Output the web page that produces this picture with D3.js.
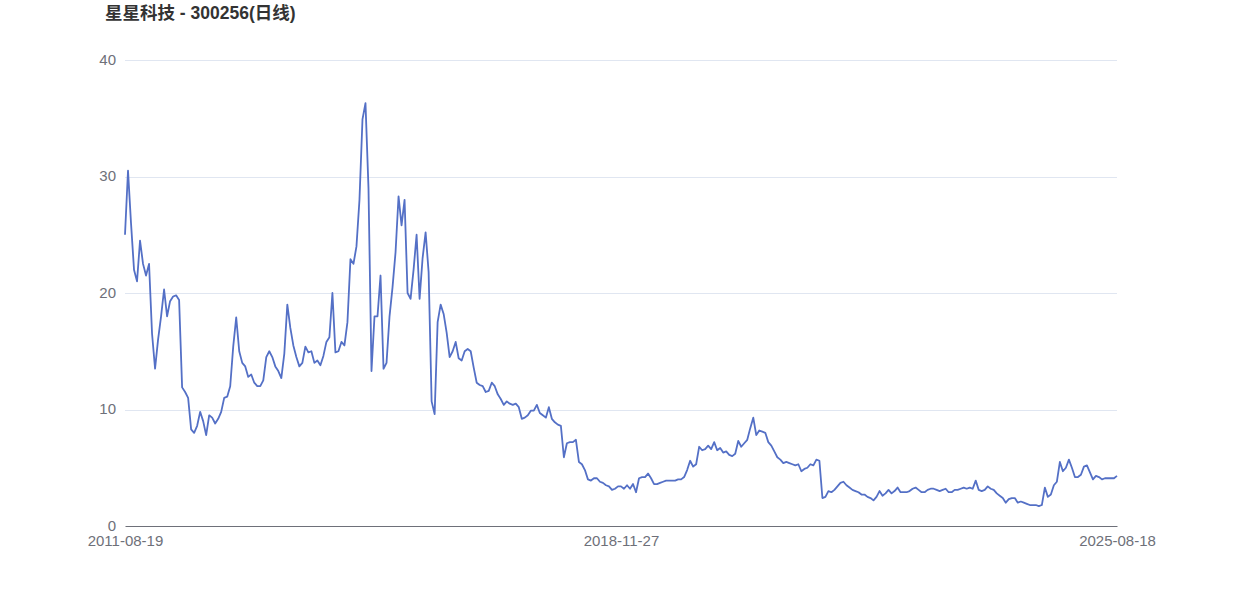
<!DOCTYPE html>
<html>
<head>
<meta charset="utf-8">
<script src="https://d3js.org/d3.v7.min.js"></script>
<style>
  body { margin: 0; background: #fff; }
  text { font-family: "Liberation Sans", Arial, "Noto Sans CJK SC", sans-serif; }
</style>
</head>
<body>
<div id="my_dataviz"></div>
<script>
// chart data (one value every ~3px)
var chartTitle = "星星科技 - 300256(日线)";
var xTickLabels = ["2011-08-19", "2018-11-27", "2025-08-18"];
var yTicks = [0, 10, 20, 30, 40];
var closePrices = [
  25.0, 30.5, 26.0, 22.0, 21.0, 24.5, 22.5, 21.5, 22.5, 16.5,
  13.5, 16.0, 18.0, 20.3, 18.0, 19.3, 19.7, 19.8, 19.4, 11.9,
  11.5, 11.0, 8.3, 8.0, 8.6, 9.8, 9.0, 7.8, 9.5, 9.3,
  8.8, 9.2,
  9.8, 11.0, 11.1, 12.0, 15.4, 17.9, 15.0, 14.0, 13.7, 12.8,
  13.0, 12.3, 12.0, 12.0, 12.5, 14.5, 15.0, 14.5, 13.7, 13.3,
  12.7, 14.8, 19.0, 17.0, 15.5, 14.5, 13.7, 14.0, 15.4, 14.9,
  15.0, 14.0, 14.2,
  13.8, 14.6, 15.8, 16.2, 20.0, 14.9, 15.0, 15.8, 15.5, 17.5,
  22.9, 22.5, 24.0, 28.0, 34.9, 36.3, 29.0, 13.3, 18.0, 18.0,
  21.5, 13.5, 14.0, 18.0, 20.5, 23.5, 28.3, 25.8, 28.0, 20.0,
  19.5, 22.0, 25.0, 19.5,
  23.0, 25.2, 21.8, 10.7, 9.6, 17.5, 19.0, 18.2, 16.6, 14.5,
  15.0, 15.8, 14.4, 14.2, 15.0, 15.2, 15.0, 13.6, 12.3, 12.1,
  12.0, 11.5, 11.6, 12.3, 12.0, 11.3, 10.9, 10.4, 10.7, 10.5,
  10.4, 10.5, 10.2,
  9.2, 9.3, 9.5, 9.9, 9.9, 10.4, 9.7, 9.5, 9.3, 10.2,
  9.2, 8.9, 8.7, 8.6, 5.9, 7.1, 7.2, 7.2, 7.4, 5.5,
  5.3, 4.8, 4.0, 3.9, 4.1, 4.1, 3.8, 3.7, 3.5, 3.4,
  3.1, 3.2, 3.4,
  3.4, 3.2, 3.5, 3.2, 3.6, 2.9, 4.1, 4.2, 4.2, 4.5,
  4.1, 3.6, 3.6, 3.7, 3.8, 3.9, 3.9, 3.9, 3.9, 4.0,
  4.0, 4.2, 4.8, 5.6, 5.1, 5.3, 6.8, 6.5, 6.6, 6.9,
  6.6, 7.2, 6.5, 6.7,
  6.3, 6.4, 6.1, 6.0, 6.2, 7.3, 6.8, 7.1, 7.4, 8.4,
  9.3, 7.8, 8.2, 8.1, 8.0, 7.2, 6.9, 6.4, 5.9, 5.7,
  5.4, 5.5, 5.4, 5.3, 5.2, 5.3, 4.7, 4.9, 5.0, 5.3,
  5.2, 5.7, 5.6,
  2.4, 2.5, 3.0, 2.9, 3.1, 3.4, 3.7, 3.8, 3.5, 3.3,
  3.1, 3.0, 2.9, 2.7, 2.7, 2.5, 2.4, 2.2, 2.5, 3.0,
  2.6, 2.8, 3.1, 2.8, 3.0, 3.3, 2.9, 2.9, 2.9, 3.0,
  3.2, 3.3, 3.1,
  2.9, 2.9, 3.1, 3.2, 3.2, 3.1, 3.0, 3.1, 3.2, 2.9,
  2.9, 3.1, 3.1, 3.2, 3.3, 3.2, 3.3, 3.2, 3.9, 3.1,
  3.0, 3.1, 3.4, 3.2, 3.1, 2.8, 2.6, 2.4, 2.0, 2.3,
  2.4, 2.4, 2.0, 2.1,
  2.0, 1.9, 1.8, 1.8, 1.8, 1.7, 1.8, 3.3, 2.5, 2.7,
  3.5, 3.8, 5.5, 4.7, 5.0, 5.7, 5.0, 4.2, 4.2, 4.4,
  5.1, 5.2, 4.6, 4.0, 4.3, 4.2, 4.0, 4.1, 4.1, 4.1,
  4.1, 4.3
];

// set the dimensions and margins of the graph
var margin = {top: 60, right: 125, bottom: 70, left: 125},
    width = 1242 - margin.left - margin.right,
    height = 596 - margin.top - margin.bottom;

var svg = d3.select("#my_dataviz")
    .append("svg")
    .attr("width", width + margin.left + margin.right)
    .attr("height", height + margin.top + margin.bottom);

// title
svg.append("text")
    .attr("x", 105)
    .attr("y", 19)
    .style("font-size", "17.5px")
    .style("font-weight", "bold")
    .style("fill", "#333")
    .text(chartTitle);

var g = svg.append("g")
    .attr("transform", "translate(" + margin.left + "," + margin.top + ")");

var n = closePrices.length;

// scales
var x = d3.scaleLinear()
    .domain([0, n - 1])
    .range([0, width]);

var y = d3.scaleLinear()
    .domain([0, 40])
    .range([height, 0]);

// horizontal grid lines
g.append("g")
    .selectAll("line")
    .data(yTicks.slice(1))
    .enter()
    .append("line")
    .attr("x1", 0)
    .attr("x2", width)
    .attr("y1", function(d) { return Math.round(y(d)) + 0.5; })
    .attr("y2", function(d) { return Math.round(y(d)) + 0.5; })
    .style("stroke", "#E0E6F1")
    .style("stroke-width", 1);

// Y axis (labels only)
var yAxis = g.append("g")
    .call(d3.axisLeft(y).tickValues(yTicks).tickSize(0).tickPadding(9));
yAxis.select(".domain").remove();
yAxis.selectAll("text")
    .attr("dy", "0.28em")
    .style("font-size", "15px")
    .style("fill", "#6E7079");

// X axis: first, middle and last trading day
var xTickIdx = [0, Math.round((n - 1) / 2), n - 1];
var xAxis = g.append("g")
    .attr("transform", "translate(0," + height + ")")
    .call(d3.axisBottom(x)
        .tickValues(xTickIdx)
        .tickSize(0)
        .tickPadding(9)
        .tickFormat(function(d, i) { return xTickLabels[i]; }));
xAxis.select(".domain")
    .style("stroke", "#6E7079");
xAxis.selectAll("text")
    .style("font-size", "15px")
    .style("fill", "#6E7079");

// price line
var line = d3.line()
    .x(function(d, i) { return x(i); })
    .y(function(d) { return y(d); });

g.append("path")
    .datum(closePrices)
    .attr("d", line)
    .style("fill", "none")
    .style("stroke", "#5470C6")
    .style("stroke-width", 1.8)
    .style("stroke-linejoin", "round");
</script>
</body>
</html>
